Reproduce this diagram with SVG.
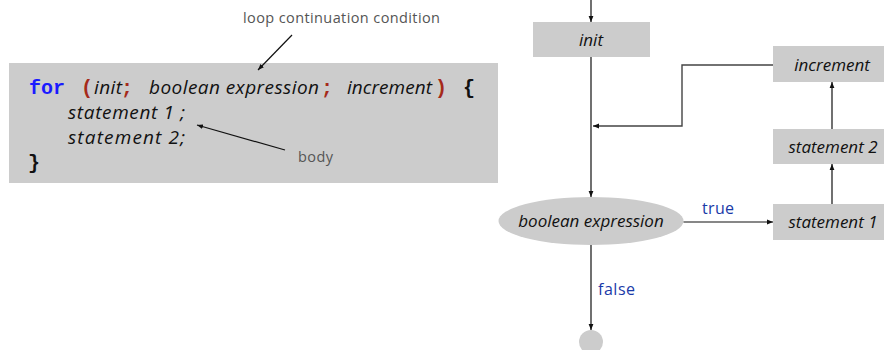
<svg xmlns="http://www.w3.org/2000/svg" width="884" height="350" viewBox="0 0 884 350">
  <style>
    .box { fill: #cccccc; }
    .code { font-family: "Open Sans", "DejaVu Sans", sans-serif; font-style: italic; font-size: 19px; fill: #111111; }
    .kw { font-family: "Liberation Mono", "Courier New", monospace; font-weight: bold; font-size: 20px; fill: #1a1aff; }
    .punc { font-family: "Liberation Mono", "Courier New", monospace; font-weight: bold; font-size: 20px; fill: #a52a1a; }
    .brace { font-family: "Liberation Mono", "Courier New", monospace; font-weight: bold; font-size: 20px; fill: #111111; }
    .note { font-family: "Open Sans", "DejaVu Sans", sans-serif; font-size: 14.5px; fill: #555555; }
    .lbl { font-family: "Open Sans", "DejaVu Sans", sans-serif; font-size: 16px; fill: #1a3aa8; }
    .ntext { font-family: "Open Sans", "DejaVu Sans", sans-serif; font-style: italic; font-size: 17px; fill: #111111; text-anchor: middle; }
    .edge { stroke: #111111; stroke-width: 1.2; fill: none; }
    .edge-gray { stroke: #444444; stroke-width: 1.4; fill: none; }
  </style>
  <defs>
    <marker id="arrow" viewBox="0 0 10 10" refX="10" refY="5" markerWidth="6" markerHeight="6" markerUnits="userSpaceOnUse" orient="auto">
      <path d="M0,1 L10,5 L0,9 z" fill="#111111"/>
    </marker>
  </defs>

  <!-- code listing -->
  <g id="code-block">
    <rect class="box" x="9" y="63" width="489" height="120"/>
    <text class="kw" x="29" y="94">for</text>
    <text class="punc" x="81" y="94">(</text>
    <text class="code" x="94" y="94" textLength="28">init</text>
    <text class="punc" x="121" y="94">;</text>
    <text class="code" x="149" y="94" textLength="170">boolean expression</text>
    <text class="punc" x="321" y="94">;</text>
    <text class="code" x="347" y="94" textLength="85">increment</text>
    <text class="punc" x="435" y="94">)</text>
    <text class="brace" x="463" y="94">{</text>
    <text class="code" x="68" y="119" textLength="117">statement 1 ;</text>
    <text class="code" x="68" y="144" textLength="117">statement 2;</text>
    <text class="brace" x="28" y="169">}</text>
  </g>

  <g id="note-condition">
    <text class="note" x="243" y="23" textLength="197">loop continuation condition</text>
  </g>
  <g id="note-body">
    <text class="note" x="298" y="162" textLength="35">body</text>
  </g>

  <!-- flowchart nodes -->
  <g id="node-init">
    <rect class="box" x="533" y="22" width="117" height="35"/>
    <text class="ntext" x="591" y="46">init</text>
  </g>
  <g id="node-increment">
    <rect class="box" x="773" y="46" width="111" height="36"/>
    <text class="ntext" x="832" y="71">increment</text>
  </g>
  <g id="node-statement2">
    <rect class="box" x="773" y="129" width="111" height="35"/>
    <text class="ntext" x="833" y="153">statement 2</text>
  </g>
  <g id="node-statement1">
    <rect class="box" x="773" y="204" width="111" height="36"/>
    <text class="ntext" x="833" y="228">statement 1</text>
  </g>
  <g id="node-condition">
    <ellipse class="box" cx="591" cy="221" rx="92.5" ry="24"/>
    <text class="ntext" x="591" y="227">boolean expression</text>
  </g>
  <g id="node-exit">
    <circle class="box" cx="591" cy="342" r="12"/>
  </g>

  <!-- connectors -->
  <g id="connectors">
    <line class="edge" x1="292" y1="35" x2="258" y2="70" marker-end="url(#arrow)"/>
    <line class="edge" x1="285" y1="150" x2="197" y2="125" marker-end="url(#arrow)"/>
    <line class="edge" x1="591" y1="0" x2="591" y2="22" marker-end="url(#arrow)"/>
    <line class="edge" x1="591" y1="57" x2="591" y2="197" marker-end="url(#arrow)"/>
    <polyline class="edge-gray" points="773,65 682,65 682,126 593,126" marker-end="url(#arrow)"/>
    <line class="edge" x1="683.5" y1="222" x2="773" y2="222" marker-end="url(#arrow)"/>
    <line class="edge" x1="832" y1="204" x2="832" y2="164" marker-end="url(#arrow)"/>
    <line class="edge" x1="832" y1="129" x2="832" y2="82" marker-end="url(#arrow)"/>
    <line class="edge" x1="591" y1="245" x2="591" y2="330" marker-end="url(#arrow)"/>
    <text class="lbl" x="702" y="214" textLength="32">true</text>
    <text class="lbl" x="598" y="295" textLength="37">false</text>
  </g>
</svg>
